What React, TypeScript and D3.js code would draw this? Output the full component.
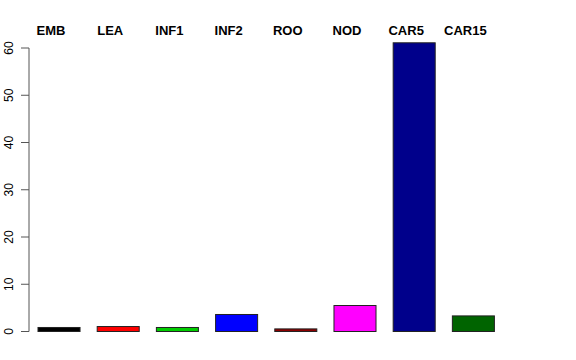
import React from "react";
import * as d3 from "d3";

const categories = ["EMB", "LEA", "INF1", "INF2", "ROO", "NOD", "CAR5", "CAR15"];
const values = [0.85, 1.05, 0.85, 3.6, 0.55, 5.5, 61.1, 3.3];
const colors = ["#000000", "#FF0000", "#00CD00", "#0000FF", "#8B0000", "#FF00FF", "#00008B", "#006400"];
const yTicks = [0, 10, 20, 30, 40, 50, 60];

export default function App() {
  const W = 576, H = 360;
  const y = d3.scaleLinear().domain([0, 60]).range([331.5, 48]);
  const x = d3.scaleBand<string>().domain(categories).range([38, 494.4]).paddingInner(0.29).paddingOuter(0);
  const axisX = 29;
  return (
    <svg width={W} height={H} style={{ position: "absolute", left: 0, top: 0, background: "#fff" }}>
      {categories.map((c, i) => (
        <rect key={c} x={x(c)} y={y(values[i])} width={x.bandwidth()} height={y(0) - y(values[i])}
          fill={colors[i]} stroke="#222" strokeWidth={1} />
      ))}
      <line x1={axisX} x2={axisX} y1={y(0)} y2={y(60)} stroke="#555" strokeWidth={1} />
      {yTicks.map(t => (
        <g key={t}>
          <line x1={axisX - 8} x2={axisX} y1={y(t)} y2={y(t)} stroke="#555" strokeWidth={1} />
          <text transform={`translate(${12.5},${y(t)}) rotate(-90)`} textAnchor="middle"
            fontFamily="Liberation Sans, Arial, sans-serif" fontSize={12} fill="#000">{t}</text>
        </g>
      ))}
      {categories.map(c => (
        <text key={c} x={(x(c) as number) + x.bandwidth() / 2 - 8} y={34.8} textAnchor="middle"
          fontFamily="Liberation Sans, Arial, sans-serif"
          fontWeight="bold" fontSize={13} fill="#000">{c}</text>
      ))}
    </svg>
  );
}
